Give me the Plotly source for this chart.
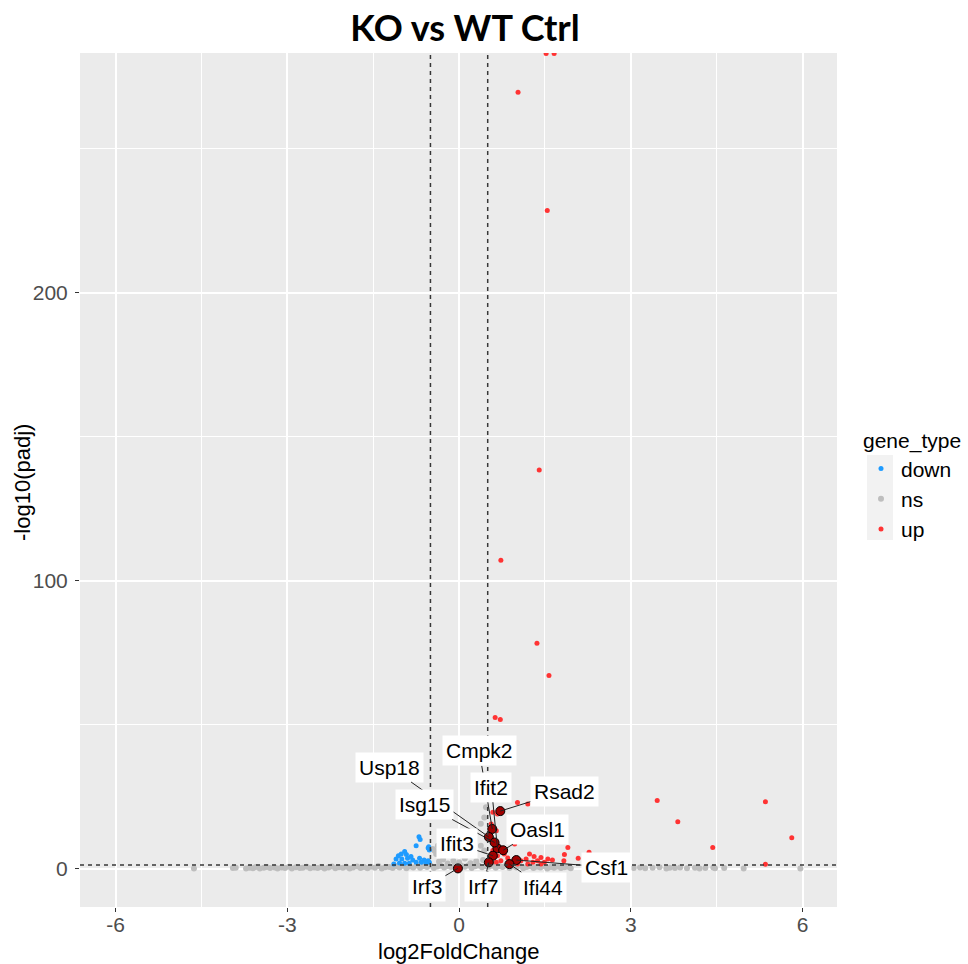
import plotly.graph_objects as go

# ---------------- data ----------------
# non-significant genes (gene_type = "ns")
ns_x = [
    -3.72, -3.66, -3.60, -3.55, -3.48, -3.41, -3.36, -3.30, -3.22, -3.17,
    -3.10, -3.04, -2.97, -2.92, -2.85, -2.78, -2.73, -2.66, -2.60, -2.53,
    -2.47, -2.41, -2.35, -2.28, -2.22, -2.16, -2.10, -2.03, -1.97, -1.91,
    -1.85, -1.78, -1.72, -1.66, -1.60, -1.54, -1.47, -1.41, -1.35, -1.29,
    -1.22, -1.16, -1.10, -1.04, -0.98, -0.92, -0.86, -0.80, -0.74, -0.68,
    -0.62, -0.56, -0.50, -0.44, -0.38, -0.32, -0.26, -0.20, -0.14, -0.08,
    -0.02, 0.04, 0.10, 0.16, 0.22, 0.28, 0.34, 0.40, 0.46, 0.52,
    0.58, 0.64, 0.70, 0.76, 0.82, 0.88, 0.94, 1.00, 1.06, 1.12,
    1.18, 1.24, 1.30, 1.36, 1.42, 1.48, 1.54, 1.60, 1.66, 1.72,
    1.78, 1.84, 1.90, 1.95, 2.40, 2.48, 2.58, 2.70, 2.81, 2.93,
    3.05, 3.16, 3.25, 3.38, 3.50, 3.62, 3.68, 3.77, 3.86, 3.98,
    4.12, 4.20, 4.30, 4.44, 4.47, 4.63, 4.97, 5.96, -4.63, -3.95,
    -3.90, -0.35, -0.28, -0.20, -0.10, 0.00, 0.10, 0.20, 0.30, 0.42,
    -0.46, -0.40, -0.43, -0.37, -0.31, 0.38, 0.44, 0.38, 0.44, 0.47,
]
ns_y = [
    0.10, 0.35, 0.15, 0.55, 0.05, 0.30, 0.60, 0.20, 0.45, 0.10,
    0.40, 0.25, 0.65, 0.08, 0.50, 0.20, 0.35, 0.70, 0.12, 0.45,
    0.28, 0.60, 0.05, 0.38, 0.75, 0.18, 0.50, 0.30, 0.65, 0.10,
    0.42, 0.80, 0.22, 0.55, 0.15, 0.70, 0.35, 0.90, 0.08, 0.48,
    0.62, 0.25, 0.85, 0.40, 1.00, 0.18, 0.72, 0.45, 1.10, 0.30,
    0.95, 0.55, 1.15, 0.20, 0.80, 1.05, 0.40, 0.90, 0.60, 1.20,
    0.35, 1.00, 0.70, 1.15, 0.25, 0.85, 1.10, 0.50, 0.95, 0.65,
    1.05, 0.30, 0.90, 0.55, 1.15, 0.20, 0.75, 0.45, 1.00, 0.15,
    0.60, 0.85, 0.25, 0.70, 0.40, 0.95, 0.10, 0.55, 0.30, 0.80,
    0.20, 0.50, 0.65, 0.15, 0.30, 0.10, 0.45, 0.20, 0.35, 0.05,
    0.25, 0.40, 0.15, 0.30, 0.50, 0.10, 0.35, 0.20, 0.45, 0.15,
    0.30, 0.10, 0.25, 0.40, 0.15, 0.20, 0.10, 0.05, 0.10, 0.20,
    0.35, 2.50, 3.20, 1.80, 2.80, 2.20, 3.50, 1.90, 2.60, 3.00,
    6.80, 5.10, 6.30, 8.00, 6.80, 8.00, 6.30, 15.60, 17.80, 21.30,
]

# down-regulated genes
down_x = [-0.70, -0.68, -0.75, -0.54, -0.52, -0.95, -1.01, -1.06, -0.92, -0.84,
          -1.10, -1.00, -0.90, -0.81, -0.69, -0.61, -0.54, -1.14, -1.04, -0.95,
          -0.87, -0.75, -0.66, -0.58, -0.52, -0.53]
down_y = [11.1, 10.1, 8.0, 7.2, 6.5, 6.0, 5.1, 4.5, 4.9, 4.2,
          3.4, 3.4, 3.6, 3.0, 3.6, 3.0, 2.8, 1.6, 2.0, 1.9,
          1.9, 2.2, 2.2, 2.1, 2.2, 7.6]

# up-regulated genes
up_x = [1.52, 1.66, 1.03, 1.54, 1.40, 0.73, 1.36, 1.57, 0.63, 0.72,
        3.46, 3.82, 4.43, 5.35, 5.81, 5.35, 1.02, 1.20, 0.59, 0.67,
        1.90, 1.84, 2.08, 2.27, 1.23, 1.31, 1.43, 1.55, 1.63, 1.17,
        1.08, 0.97, 0.85, 0.79, 0.73, 0.67, 0.59, 0.56, 0.65, 0.91,
        1.29, 1.49, 1.37, 0.62, 0.53, 0.65, 0.56, 1.02, 1.20, 1.43,
        0.97, 1.83]
up_y = [283.0, 283.0, 269.6, 228.5, 138.4, 107.1, 78.3, 67.1, 52.5, 51.8,
        23.7, 16.3, 7.4, 23.2, 10.7, 1.5, 23.0, 22.5, 19.6, 19.0,
        7.4, 4.9, 3.6, 5.7, 5.1, 4.2, 3.9, 3.4, 3.0, 3.4,
        2.8, 3.4, 3.7, 5.1, 2.8, 4.5, 6.3, 2.2, 2.2, 2.2,
        2.2, 2.2, 2.8, 9.7, 10.9, 13.2, 15.5, 1.6, 1.6, 1.6,
        8.6, 2.8]

# labelled genes
gene_names = ["Cmpk2", "Usp18", "Ifit2", "Rsad2", "Isg15", "Oasl1",
              "Ifit3", "Csf1", "Irf3", "Irf7", "Ifi44"]
gene_x = [0.58, 0.52, 0.67, 0.72, 0.62, 0.77, 0.59, 1.00, -0.02, 0.52, 0.88]
gene_y = [13.8, 11.0, 7.1, 20.0, 9.1, 6.4, 4.5, 3.0, 0.1, 2.2, 1.6]
# label offsets (pixels) from point to label centre
label_dx = [-13, -99, -6, 64, -70, 34, -36, 90, -31, -6, 34]
label_dy = [-78, -70, -61, -20, -38, -21, -12, 7, 18, 24, 23]

x_ticks = [-6, -3, 0, 3, 6]
y_ticks = [0, 100, 200]
lfc_cut = 0.5
padj_line = 1.30103  # -log10(0.05)

# ---------------- figure ----------------
W, H = 968, 964
L, R, T, B = 80, 837, 53, 907
pw, ph = R - L, B - T

col_down = "#1E9BFF"
col_ns = "#BEBEBE"
col_up = "#FF3333"
FONT = "Liberation Sans"

fig = go.Figure()
fig.add_trace(go.Scatter(x=ns_x, y=ns_y, mode="markers", name="ns",
                         marker=dict(color=col_ns, size=6), legendrank=2))
fig.add_trace(go.Scatter(x=down_x, y=down_y, mode="markers", name="down",
                         marker=dict(color=col_down, size=5), legendrank=1))
fig.add_trace(go.Scatter(x=up_x, y=up_y, mode="markers", name="up",
                         marker=dict(color=col_up, size=5), legendrank=3))
fig.add_trace(go.Scatter(x=gene_x, y=gene_y, mode="markers", showlegend=False,
                         marker=dict(color="#A00000", size=9,
                                     line=dict(color="black", width=1))))

for g, gx, gy, dx, dy in zip(gene_names, gene_x, gene_y, label_dx, label_dy):
    fig.add_annotation(x=gx, y=gy, text=g, showarrow=True, arrowhead=0,
                       arrowwidth=1, arrowcolor="#222222", ax=dx, ay=dy,
                       standoff=0, bgcolor="white", borderpad=3,
                       font=dict(family=FONT, size=21, color="black"))

# axis titles
fig.add_annotation(text="log2FoldChange", xref="paper", yref="paper",
                   x=0.5, y=(B - 951) / ph, xanchor="center", yanchor="middle",
                   showarrow=False, font=dict(family=FONT, size=22, color="black"))
fig.add_annotation(text="-log10(padj)", xref="paper", yref="paper",
                   x=(22 - L) / pw, y=(B - 483) / ph, xanchor="center", yanchor="middle",
                   textangle=-90, showarrow=False,
                   font=dict(family=FONT, size=22, color="black"))

dash = "4px,4px"
for xv in (-lfc_cut, lfc_cut):
    fig.add_shape(type="line", xref="x", yref="y domain", x0=xv, x1=xv, y0=0, y1=1,
                  line=dict(color="#383838", width=1.5, dash=dash), layer="above")
fig.add_shape(type="line", xref="x domain", yref="y", x0=0, x1=1, y0=padj_line, y1=padj_line,
              line=dict(color="#383838", width=1.5, dash=dash), layer="above")

# legend key background
fig.add_shape(type="rect", xref="paper", yref="paper",
              x0=(867 - L) / pw, x1=(893 - L) / pw,
              y0=(B - 540) / ph, y1=(B - 455) / ph,
              fillcolor="#F2F2F2", line=dict(width=0), layer="below")

axis_common = dict(showgrid=True, gridcolor="white", gridwidth=2, zeroline=False,
                   ticks="outside", ticklen=4, tickcolor="#333333", tickwidth=1,
                   tickfont=dict(family=FONT, size=21, color="#4D4D4D"),
                   showline=False, automargin=False)

fig.update_layout(
    width=W, height=H,
    margin=dict(l=L, r=W - R, t=T, b=H - B, autoexpand=False),
    paper_bgcolor="white", plot_bgcolor="#EBEBEB",
    title=dict(text="<b>KO vs WT Ctrl</b>", x=465 / W, xref="container", xanchor="center",
               y=1 - 28 / H, yref="container", yanchor="middle",
               font=dict(family="Lato", size=36, color="black")),
    xaxis=dict(range=[-6.62, 6.60], tickvals=x_ticks, ticktext=[str(v) for v in x_ticks],
               ticklabelstandoff=-5,
               minor=dict(dtick=1.5, tick0=0, showgrid=True, gridcolor="white", gridwidth=1),
               **axis_common),
    yaxis=dict(range=[-13.3, 283.2], tickvals=y_ticks, ticktext=[str(v) for v in y_ticks],
               ticklabelstandoff=3,
               minor=dict(dtick=50, tick0=0, showgrid=True, gridcolor="white", gridwidth=1),
               **axis_common),
    legend=dict(x=(861 - L) / pw, xanchor="left", y=(B - 421) / ph, yanchor="top",
                bgcolor="rgba(0,0,0,0)",
                title=dict(text="gene_type", font=dict(family=FONT, size=21, color="black")),
                font=dict(family=FONT, size=21, color="black")),
    showlegend=True,
)

fig.write_html("out.html")
